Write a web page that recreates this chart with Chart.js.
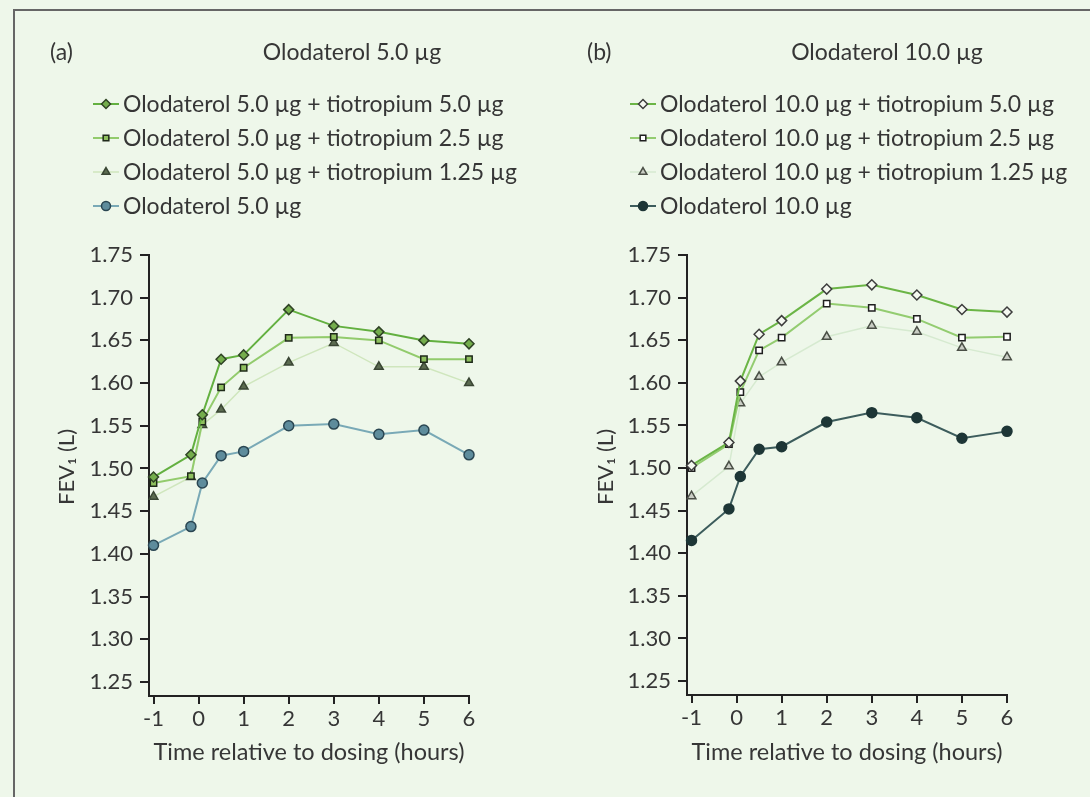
<!DOCTYPE html>
<html>
<head>
<meta charset="utf-8">
<script src="https://cdn.jsdelivr.net/npm/chart.js@4"></script>
<style>
  html, body { margin: 0; padding: 0; }
  body { width: 1090px; height: 797px; background: #eef7ea; position: relative; overflow: hidden; }
  #frame { position: absolute; left: 13px; top: 9px; width: 1100px; height: 800px;
           border-left: 2px solid #666; border-top: 2px solid #666; }
  canvas { position: absolute; top: 0; }
  #panelA { left: 0; }
  #panelB { left: 545px; }
</style>
</head>
<body>
<div id="frame"></div>
<canvas id="panelA" width="545" height="797"></canvas>
<canvas id="panelB" width="545" height="797"></canvas>
<script>
"use strict";
// sampling times, hours relative to dosing (-1 h, -10 min, 5 min, 30 min, 1..6 h)
const times = [-1, -0.17, 0.083, 0.5, 1, 2, 3, 4, 5, 6];
const xTicks = [-1, 0, 1, 2, 3, 4, 5, 6];
const yTicks = [1.25, 1.30, 1.35, 1.40, 1.45, 1.50, 1.55, 1.60, 1.65, 1.70, 1.75];

// (a) olodaterol 5.0 µg
const labelsA = [
    "Olodaterol 5.0 µg + tiotropium 5.0 µg",
    "Olodaterol 5.0 µg + tiotropium 2.5 µg",
    "Olodaterol 5.0 µg + tiotropium 1.25 µg",
    "Olodaterol 5.0 µg"
];
const olo5tio5 = [1.490, 1.516, 1.563, 1.628, 1.633, 1.686, 1.667, 1.660, 1.650, 1.646];
const olo5tio25 = [1.483, 1.491, 1.555, 1.595, 1.618, 1.653, 1.654, 1.650, 1.628, 1.628];
const olo5tio125 = [1.467, 1.490, 1.551, 1.569, 1.596, 1.624, 1.647, 1.619, 1.619, 1.600];
const olo5 = [1.410, 1.432, 1.483, 1.515, 1.520, 1.550, 1.552, 1.540, 1.545, 1.516];

// (b) olodaterol 10.0 µg
const labelsB = [
    "Olodaterol 10.0 µg + tiotropium 5.0 µg",
    "Olodaterol 10.0 µg + tiotropium 2.5 µg",
    "Olodaterol 10.0 µg + tiotropium 1.25 µg",
    "Olodaterol 10.0 µg"
];
const olo10tio5 = [1.503, 1.530, 1.602, 1.657, 1.673, 1.710, 1.715, 1.703, 1.686, 1.683];
const olo10tio25 = [1.500, 1.528, 1.589, 1.638, 1.653, 1.693, 1.688, 1.675, 1.653, 1.654];
const olo10tio125 = [1.467, 1.502, 1.576, 1.607, 1.624, 1.654, 1.667, 1.660, 1.641, 1.630];
const olo10 = [1.415, 1.452, 1.490, 1.522, 1.525, 1.554, 1.565, 1.559, 1.535, 1.543];

const textColor = '#363636';
const axisColor = '#222';
const fontFamily = 'Lato, "Noto Sans", sans-serif';

function points(values) {
    return values.map((v, i) => ({ x: times[i], y: v }));
}

function series(label, values, style) {
    return Object.assign({
        label: label,
        data: points(values),
        borderWidth: 2,
        pointBorderWidth: 1.5,
        pointRadius: 4.5,
        pointHoverRadius: 4.5,
        tension: 0,
        clip: false
    }, style);
}

// panel tag, title, y axis title and the legend (line + marker + text)
const panelHeader = {
    id: 'panelHeader',
    afterDraw(chart, args, opts) {
        const ctx = chart.ctx;
        ctx.save();
        ctx.fillStyle = textColor;
        ctx.textBaseline = 'middle';
        ctx.font = '23px ' + fontFamily;
        ctx.textAlign = 'left';
        ctx.fillText(opts.tag, opts.tagX, 53);
        ctx.textAlign = 'center';
        ctx.fillText(opts.title, opts.titleX, 53);

        ctx.save();
        ctx.translate(opts.yTitleX, 467);
        ctx.rotate(-Math.PI / 2);
        ctx.font = '22px ' + fontFamily;
        ctx.fillText('FEV₁ (L)', 0, 0);
        ctx.restore();

        ctx.textAlign = 'left';
        chart.data.datasets.forEach((ds, i) => {
            const y = opts.rows[i];
            const x0 = opts.legendX;
            ctx.strokeStyle = ds.borderColor;
            ctx.lineWidth = ds.borderWidth;
            ctx.beginPath();
            ctx.moveTo(x0, y);
            ctx.lineTo(x0 + 26, y);
            ctx.stroke();
            ctx.fillStyle = ds.pointBackgroundColor;
            ctx.strokeStyle = ds.pointBorderColor;
            ctx.lineWidth = ds.pointBorderWidth;
            Chart.helpers.drawPoint(ctx, {
                pointStyle: ds.pointStyle, rotation: 0,
                radius: ds.pointRadius - 0.5, borderWidth: ds.pointBorderWidth
            }, x0 + 13, y);
            ctx.fillStyle = textColor;
            ctx.fillText(ds.label, x0 + 30, y + 1);
        });
        ctx.restore();
    }
};

function makePanel(canvasId, datasets, header, geom) {
    return new Chart(document.getElementById(canvasId), {
        type: 'line',
        data: { datasets: datasets },
        plugins: [panelHeader],
        options: {
            responsive: false,
            animation: false,
            devicePixelRatio: 1,
            layout: { padding: { left: 0, right: geom.padRight, top: 255, bottom: 0 } },
            plugins: {
                legend: { display: false },
                tooltip: { enabled: false },
                panelHeader: header
            },
            scales: {
                x: {
                    type: 'linear',
                    min: -1.1,
                    max: 6,
                    afterBuildTicks: s => { s.ticks = xTicks.map(v => ({ value: v })); },
                    afterFit: s => { s.height = geom.xHeight; },
                    border: { display: true, color: axisColor, width: 2 },
                    grid: { drawOnChartArea: false, drawTicks: true, tickLength: 8, color: axisColor, lineWidth: 2 },
                    ticks: {
                        color: textColor, padding: 2, maxRotation: 0,
                        font: { family: fontFamily, size: 22 },
                        callback: v => String(v)
                    },
                    title: {
                        display: true, text: 'Time relative to dosing (hours)', color: textColor,
                        font: { family: fontFamily, size: 23.5 },
                        padding: { top: 0, bottom: 30 }
                    }
                },
                y: {
                    type: 'linear',
                    min: 1.2336,
                    max: 1.75,
                    afterBuildTicks: s => { s.ticks = yTicks.map(v => ({ value: v })); },
                    afterFit: s => { s.width = geom.yWidth; },
                    border: { display: true, color: axisColor, width: 2 },
                    grid: { drawOnChartArea: false, drawTicks: true, tickLength: 9, color: axisColor, lineWidth: 2 },
                    ticks: {
                        color: textColor, padding: 7,
                        font: { family: fontFamily, size: 22 },
                        callback: v => v.toFixed(2)
                    }
                }
            }
        }
    });
}

makePanel('panelA', [
    series(labelsA[0], olo5tio5, {
        borderColor: '#63b040', pointStyle: 'rectRot', pointRadius: 5,
        pointBackgroundColor: '#74ad4c', pointBorderColor: '#2f4325'
    }),
    series(labelsA[1], olo5tio25, {
        borderColor: '#92cb6c', pointStyle: 'rect', pointRadius: 4.5,
        pointBackgroundColor: '#8fc05f', pointBorderColor: '#1f2a1a'
    }),
    series(labelsA[2], olo5tio125, {
        borderColor: '#cfe6bd', borderWidth: 1.5, pointStyle: 'triangle', pointRadius: 5,
        pointBackgroundColor: '#5b6b50', pointBorderColor: '#3a4634'
    }),
    series(labelsA[3], olo5, {
        borderColor: '#79a9b6', pointStyle: 'circle', pointRadius: 5,
        pointBackgroundColor: '#5e8c9c', pointBorderColor: '#2a4652'
    })
], {
    tag: '(a)', tagX: 50, title: 'Olodaterol 5.0 µg', titleX: 352, yTitleX: 67,
    legendX: 93, rows: [104, 138, 172, 206]
}, { padRight: 76, xHeight: 101, yWidth: 149 });

makePanel('panelB', [
    series(labelsB[0], olo10tio5, {
        borderColor: '#6bb546', pointStyle: 'rectRot', pointRadius: 5,
        pointBackgroundColor: '#f4f8f0', pointBorderColor: '#3d3d3d'
    }),
    series(labelsB[1], olo10tio25, {
        borderColor: '#93cc70', pointStyle: 'rect', pointRadius: 4.5,
        pointBackgroundColor: '#ffffff', pointBorderColor: '#1f1f1f'
    }),
    series(labelsB[2], olo10tio125, {
        borderColor: '#d6ead0', borderWidth: 1.5, pointStyle: 'triangle', pointRadius: 5,
        pointBackgroundColor: '#c9cdc4', pointBorderColor: '#4a4f46'
    }),
    series(labelsB[3], olo10, {
        borderColor: '#3c5c5c', pointStyle: 'circle', pointRadius: 5,
        pointBackgroundColor: '#1d3636', pointBorderColor: '#1d3636'
    })
], {
    tag: '(b)', tagX: 42, title: 'Olodaterol 10.0 µg', titleX: 342, yTitleX: 61,
    legendX: 85, rows: [104, 138, 172, 206]
}, { padRight: 83, xHeight: 102, yWidth: 142 });
</script>
</body>
</html>
